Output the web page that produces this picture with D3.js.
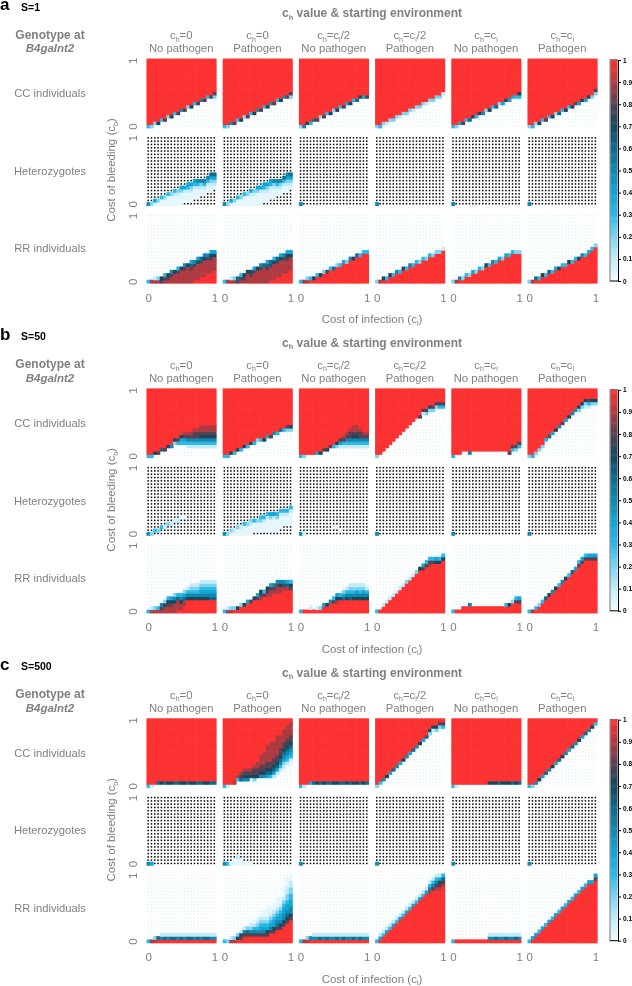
<!DOCTYPE html>
<html>
<head>
<meta charset="utf-8">
<script src="https://cdn.jsdelivr.net/npm/d3@7"></script>
<style>
html, body { margin: 0; padding: 0; background: #fff; }
svg { display: block; font-family: "Liberation Sans", sans-serif; filter: blur(0.4px); }
</style>
</head>
<body>
<script>
"use strict";

// each panel is 21 columns (ci 0..1), one token per column, read bottom-up:
// letter = first row that is not the "below" value, digits = value*10 of the rows
// from there on, all rows above that take the "above" value
const ccS1 = [
  "a3 a2 b2 b7 c3 c8 d2 d7 e3 e8 f5 f8 g2 g7 h3 h8 i5 i8 j3 j8 j28",
  "a3 a2 b5 b8 c3 c7 d2 d8 e3 e7 f5 f8 g3 g7 h5 h8 i3 i7 j5 j8 j28",
  "a2 a5 b7 b3 c6 c8 d2 d8 e3 e7 f2 f7 g3 g8 h4 h7 i3 i6 j7 j4 j8",
  "a2 a3 b2 b1 c2 c2 d2 d1 e2 e2 f2 f1 g2 g2 h2 h1 i2 i2 j2 j2 k1",
  "a3 a2 b4 b8 c3 c6 d7 d3 e7 e5 f2 f7 g3 g6 h2 h4 i7 i4 j4 j3 j37",
  "a2 a3 b2 b7 c3 c8 d3 d7 e2 e6 f3 f7 g3 g7 h8 h4 i7 i4 j7 j2 k28"
];
const hetCorner = "a5 a a a a a a a a a a a a a a a a a a a a";
const hetS1 = [
  "a5 a2 a04 a02 a003 a002 a0003 a0002 a00013 a00012 a000024 b00014 b000134 b000124 c000134 c000135 d00125 d00135 e00135 e001246 f01246",
  "a5 a2 a04 a02 a003 a002 a0003 a0002 a00014 a00012 a000024 a000014 b000134 b000124 c000134 c000125 d00135 d00125 e00136 e001245 f01246",
  hetCorner, hetCorner, hetCorner, hetCorner
];
const rrS1 = [
  "a3 a9 a91 a92 a87 a983 a987 a9985 a9997 a99983 a99997 a999985 a999997 a9999864 b999985 b9999974 c999986 c9999975 d999985 d9999874 e999974",
  "a3 a9 a91 a92 a86 a983 a987 a9997 a9987 a99984 a99997 a999985 a999996 a9999864 b999986 b9999973 c999986 c9999974 d999985 d9999874 e999974",
  "a3 a9 a92 b3 b7 c3 c7 d2 d8 e3 e6 f2 f3 g4 g2 h5 h7 i6 i3 j3 j3",
  "a2 a9 b7 b3 c7 c3 d5 d3 e7 e3 f5 f3 g3 g2 h3 h2 i3 i2 j2 j2 k1",
  "a2 a9 b5 b2 c3 c2 d4 d2 e3 e2 f7 f3 g5 g3 h4 h2 i4 i3 j3 j2 j2",
  "a2 a9 b6 b3 c7 c3 d6 d3 e4 e7 f3 f3 g7 g3 h3 h7 i5 i3 j4 k3 l2"
];

const ccS50 = [
  "a3 a3 b7 b8 c6 c8 d7 d5 e27 e38 e347 e3489 d13589 d13589 d135889 d135889 d1357899 d1357899 d1357899 d1357899 d1357899",
  "a3 a3 b7 b3 c7 c3 d7 d3 e7 e3 f2 f3 f7 g4 g8 h5 h3 i6 i3 i28 i27",
  "a3 a2 b b b b4 b7 c8 c7 d8 d3 d27 d148 d1389 d13589 d135889 d1357899 d1357899 d135889 d13589 d13589",
  "a2 b c d e f g h i j k l m m8 n18 n28 o27 o28 p28 p38 p38",
  "a3 b b c c b5 c c c c c c c c c c c b8 c38 c28 d38",
  "a2 a3 b2 c2 d2 f3 g6 h4 i7 j5 k8 l4 m7 n5 o5 o27 p27 p127 p138 q27 q27"
];
const hetS50 = [
  "a5 a2 b3 b2 c3 c1 d2 d1 e1 e1 f0 f0 a a a a a a a a a",
  "a5 a2 a02 a01 a002 a001 a0003 a0002 a00012 b0003 b0002 b00023 b00013 b000013 b000024 b000014 b000023 c000013 d00013 d00013 d000013",
  "a5 a1 a a a a a a a a c0 c0 b0 a a a a a a a a",
  hetCorner, hetCorner, hetCorner
];
const rrS50 = [
  "a3 a91 a92 a93 a985 a9972 a99873 a99874 a999752 b99963 b99753 c99642 e7531 e75321 e75321 e75321 e754321 e754321 e754321 e654321 e654321",
  "a3 a91 a92 b2 b7 c2 c7 d4 d8 e7 e84 e987 f83 f987 f9984 g985 g9985 g9975 h985 h964 h873",
  "a3 b b b1 b b1 b2 c4 c7 d5 d83 d974 e73 e642 e7531 e65321 e75321 e75421 e75321 e75421 e7531",
  "a3 b c1 d1 e1 f1 g1 h1 i1 j2 k1 l1 m2 n7 n84 o83 o983 p83 p74 p73 q73",
  "a3 b b c c c5 c c c c c c c c c c c3 c7 d2 d83 d84",
  "a3 a9 b3 c2 d3 e6 f7 g5 h7 i3 j5 k7 l3 m6 n4 o83 p84 q83 q84 q84 q84"
];

const ccS500 = [
  "a3 a1 b b6 b7 b6 b7 b7 b6 b6 b7 b7 b6 b7 b7 b6 b6 b7 b7 b6 b6",
  "a3 a1 b b9 c39 c689 c5789 c5789 d789 c27889 d78899 d5788999 d57889999 d4678899999 d36788999999 d14678899999 e146788999999 f13567889999 f0124567889999 g0134567889999 h0134567889999",
  "a3 a1 b b4 b6 b7 b6 b7 b6 b6 b7 b7 b6 b6 b7 b6 b7 b7 b6 b7 b6",
  "a2 b3 c5 d7 e4 f6 g5 h4 i7 j5 k4 l6 m5 n7 o4 p6 q27 r17 r27 s28 s38",
  "a3 a1 b b b b b b b b b b7 b7 b7 b6 b7 b7 b7 b6 b7 b6",
  "a3 a2 b5 c7 d4 e6 f5 g7 h4 i6 j7 k5 l4 m6 n5 o7 p4 q6 r5 s7 t3"
];
const hetS500 = [
  "a5 a4 a a a a a a a a a a a a a a a a a a a",
  "a5 a3 a0 a00 a001 a00 a0 a0 a0 a a a a a a a a a a a a",
  hetCorner, hetCorner, hetCorner, hetCorner
];
const rrS500 = [
  "a3 a9 a92 b6 b51 b61 b51 b61 b61 b51 b61 b51 b61 b61 b51 b61 b51 b61 b61 b51 b51",
  "a3 a2 a91 a92 b72 b871 c851 c862 c8521 c85310 c853210 c8543210 c85432100 c874321000 d85432100 d874432100 e8654321000 e8754432100 f875544321000 g87654432211000 h87554433221100",
  "a3 a9 a92 b5 b51 b51 b61 b51 b61 b51 b51 b61 b51 b61 b51 b51 b61 b51 b61 b51 b51",
  "a3 b41 c31 d41 e31 f41 g31 h41 i31 j41 k31 l41 m31 n41 o31 p41 p9531 q8531 q98531 q98741 r9863",
  "a3 b b b b b b b b b b b51 b51 b61 b51 b51 b61 b51 b51 b61 b51",
  "a3 b4 c4 d3 e4 f3 g4 h3 i4 j3 k4 l3 m4 n3 o4 p3 q4 r3 s4 s4 t84"
];

const groupLetters = ["a", "b", "c"];
const groupTitles = ["S=1", "S=50", "S=500"];
const groupData = [[ccS1, hetS1, rrS1], [ccS50, hetS50, rrS50], [ccS500, hetS500, rrS500]];
const groupOffsets = [0, 329.8, 659.7];

const rowLabels = ["CC individuals", "Heterozygotes", "RR individuals"];
const rowBelow = [0, null, 1];
const rowAbove = [1, null, 0];
const colTop = ["c_h=0", "c_h=0", "c_h=c_i/2", "c_h=c_i/2", "c_h=c_i", "c_h=c_i"];
const colBottom = ["No pathogen", "Pathogen", "No pathogen", "Pathogen", "No pathogen", "Pathogen"];

const colorStops = [0, 0.1, 0.2, 0.3, 0.4, 0.5, 0.6, 0.7, 0.8, 0.9, 1];
const colorRange = ["#f3fbfe", "#c4ecf8", "#7dd5ef", "#2bb8e6", "#10a6d6", "#1388ae", "#0f6b8a", "#17475c", "#544254", "#b03a42", "#fc3232"];
const barTicks = [0, 0.1, 0.2, 0.3, 0.4, 0.5, 0.6, 0.7, 0.8, 0.9, 1];

const width = 632;
const height = 986;
const gray = "#808080";

const color = d3.scaleLinear().domain(colorStops).range(colorRange);

const svg = d3.select("body").append("svg")
    .attr("width", width)
    .attr("height", height);

// scales for the panel layout
const xPanel = d3.scaleBand().domain(d3.range(6)).range([146.5, 597]).paddingInner(0.088);
const yPanel = d3.scaleBand().domain(d3.range(3)).range([58.6, 283]).paddingInner(0.109);
const xCell = d3.scaleBand().domain(d3.range(21)).range([0, xPanel.bandwidth()]);
const yCell = d3.scaleBand().domain(d3.range(21)).range([yPanel.bandwidth(), 0]);
const xTick = d3.scaleLinear().domain([0, 1]).range([xCell(0) + xCell.bandwidth() / 2, xCell(20) + xCell.bandwidth() / 2]);
const yTick = d3.scaleLinear().domain([0, 1]).range([yCell(0) + yCell.bandwidth() / 2, yCell(20) + yCell.bandwidth() / 2]);
const yBar = d3.scaleLinear().domain([0, 1]).range([281, 60]);

// "c_h=c_i/2" -> tspans with the _x letter as subscript
function richText(sel, str) {
  const parts = str.split(/_(.)/);
  parts.forEach(function(p, i) {
    if (p === "") return;
    if (i % 2 === 1) {
      sel.append("tspan").attr("dy", 2.5).attr("font-size", "0.62em").text(p);
    } else {
      sel.append("tspan").attr("dy", i > 0 ? -2.5 : 0).text(p);
    }
  });
}

function expandPanel(columns, below, above) {
  const cells = [];
  columns.split(" ").forEach(function(token, col) {
    const start = token.charCodeAt(0) - 97;
    const digits = token.slice(1);
    d3.range(21).forEach(function(row) {
      let value = above;
      if (row < start) value = below;
      else if (row < start + digits.length) value = Math.max(+digits[row - start] / 10, 0.03);
      cells.push({col: col, row: row, value: value});
    });
  });
  return cells;
}

groupData.forEach(function(rows, g) {
  const group = svg.append("g").attr("transform", "translate(0," + groupOffsets[g] + ")");

  group.append("text").attr("x", 0).attr("y", 10)
      .attr("font-size", 17).attr("font-weight", "bold").attr("fill", "#000")
      .text(groupLetters[g]);
  group.append("text").attr("x", 21).attr("y", 10.5)
      .attr("font-size", 10.5).attr("font-weight", "bold").attr("fill", "#000")
      .text(groupTitles[g]);

  group.append("text").attr("x", 372).attr("y", 17)
      .attr("text-anchor", "middle").attr("font-size", 12).attr("font-weight", "bold").attr("fill", gray)
      .call(richText, "c_h value & starting environment");

  group.append("text").attr("x", 50).attr("y", 38.5)
      .attr("text-anchor", "middle").attr("font-size", 12).attr("font-weight", "bold").attr("fill", gray)
      .text("Genotype at");
  group.append("text").attr("x", 50).attr("y", 52)
      .attr("text-anchor", "middle").attr("font-size", 11.5).attr("font-weight", "bold").attr("font-style", "italic").attr("fill", gray)
      .text("B4galnt2");

  // column headers
  colTop.forEach(function(label, c) {
    const cx = xPanel(c) + xPanel.bandwidth() / 2;
    group.append("text").attr("x", cx).attr("y", 39)
        .attr("text-anchor", "middle").attr("font-size", 11.3).attr("fill", gray)
        .call(richText, label);
    group.append("text").attr("x", cx).attr("y", 52)
        .attr("text-anchor", "middle").attr("font-size", 11.3).attr("fill", gray)
        .text(colBottom[c]);
  });

  rowLabels.forEach(function(label, r) {
    group.append("text").attr("x", 50).attr("y", yPanel(r) + yPanel.bandwidth() / 2 + 4)
        .attr("text-anchor", "middle").attr("font-size", 11.2).attr("fill", gray)
        .text(label);

    rows[r].forEach(function(columns, c) {
      const cells = expandPanel(columns, rowBelow[r], rowAbove[r]);
      const panel = group.append("g")
          .attr("transform", "translate(" + xPanel(c) + "," + yPanel(r) + ")");

      panel.selectAll("rect.cell")
          .data(cells.filter(function(d) { return d.value !== null && d.value > 0; }))
          .join("rect")
          .attr("class", "cell")
          .attr("x", function(d) { return xCell(d.col); })
          .attr("y", function(d) { return yCell(d.row); })
          .attr("width", xCell.bandwidth() + 0.6)
          .attr("height", yCell.bandwidth() + 0.6)
          .attr("fill", function(d) { return color(d.value); });

      // no data in this cell: black dot for heterozygotes, faint dot for the rest
      panel.selectAll("rect.dot")
          .data(cells.filter(function(d) { return d.value === null || d.value === 0; }))
          .join("rect")
          .attr("class", "dot")
          .attr("x", function(d) { return xCell(d.col) + xCell.bandwidth() / 2 - (d.value === null ? 0.75 : 0.55); })
          .attr("y", function(d) { return yCell(d.row) + yCell.bandwidth() / 2 - (d.value === null ? 0.75 : 0.55); })
          .attr("width", function(d) { return d.value === null ? 1.5 : 1.1; })
          .attr("height", function(d) { return d.value === null ? 1.5 : 1.1; })
          .attr("fill", function(d) { return d.value === null ? "#000" : "#d4f0f8"; });

      // x ticks only under the bottom row
      if (r === 2) {
        const xAxis = panel.append("g")
            .attr("transform", "translate(0," + (yPanel.bandwidth() + 18.5) + ")")
            .call(d3.axisBottom(xTick).tickValues([0, 1]).tickFormat(d3.format("d")).tickSize(0).tickPadding(0));
        xAxis.select(".domain").remove();
        xAxis.selectAll("text").attr("font-size", 11.5).attr("font-family", "inherit").attr("fill", gray).attr("dy", 0);
      }

      // y ticks only on the first column
      if (c === 0) {
        const yAxis = panel.append("g")
            .attr("transform", "translate(-10,0)")
            .call(d3.axisLeft(yTick).tickValues([0, 1]).tickFormat(d3.format("d")).tickSize(0).tickPadding(0));
        yAxis.select(".domain").remove();
        yAxis.selectAll("text")
            .attr("transform", "rotate(-90)")
            .attr("text-anchor", "middle")
            .attr("x", 0)
            .attr("y", 0)
            .attr("dy", 0)
            .attr("font-size", 11.5).attr("font-family", "inherit").attr("fill", gray);
      }
    });
  });

  group.append("text")
      .attr("transform", "translate(115,170) rotate(-90)")
      .attr("text-anchor", "middle").attr("font-size", 11.5).attr("fill", gray)
      .call(richText, "Cost of bleeding (c_b)");

  group.append("text").attr("x", 372).attr("y", 323)
      .attr("text-anchor", "middle").attr("font-size", 11.5).attr("fill", gray)
      .call(richText, "Cost of infection (c_i)");

  // colour bar
  const barValues = d3.range(0, 1.0001, 0.005);
  group.selectAll("rect.bar")
      .data(barValues)
      .join("rect")
      .attr("class", "bar")
      .attr("x", 610.5)
      .attr("y", function(d) { return yBar(d) - 0.8; })
      .attr("width", 7)
      .attr("height", 1.6)
      .attr("fill", function(d) { return color(d); });
  group.append("line")
      .attr("x1", 610).attr("x2", 610).attr("y1", yBar(0) + 0.5).attr("y2", yBar(1) - 0.5)
      .attr("stroke", "#777").attr("stroke-width", 1);

  const barAxis = group.append("g")
      .attr("transform", "translate(618,0)")
      .call(d3.axisRight(yBar).tickValues(barTicks).tickFormat(d3.format("~g")).tickSize(3).tickSizeOuter(0).tickPadding(2));
  barAxis.select(".domain").attr("stroke", "#000");
  barAxis.selectAll("line").attr("stroke", "#000");
  barAxis.selectAll("text").attr("font-size", 6.5).attr("font-weight", "bold")
      .attr("font-family", "inherit").attr("fill", "#000");
  group.append("line")
      .attr("x1", 610).attr("x2", 618).attr("y1", yBar(0)).attr("y2", yBar(0)).attr("stroke", "#000");
  group.append("line")
      .attr("x1", 610).attr("x2", 618).attr("y1", yBar(1)).attr("y2", yBar(1)).attr("stroke", "#777");
});
</script>
</body>
</html>
